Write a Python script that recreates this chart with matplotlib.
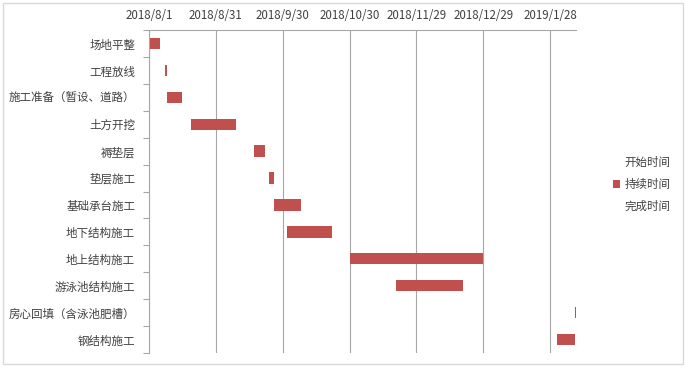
import datetime as dt
import matplotlib
matplotlib.use("Agg")
import matplotlib.pyplot as plt
import matplotlib.dates as mdates
from matplotlib.patches import Patch, Rectangle
from matplotlib.ticker import FixedLocator, FuncFormatter

plt.rcParams['font.family'] = ['Noto Sans CJK SC', 'DejaVu Sans']

tasks = ["场地平整", "工程放线", "施工准备（暂设、道路）", "土方开挖", "褥垫层", "垫层施工",
         "基础承台施工", "地下结构施工", "地上结构施工", "游泳池结构施工",
         "房心回填（含泳池肥槽）", "钢结构施工"]
starts = ["2018-08-01", "2018-08-08", "2018-08-09", "2018-08-20", "2018-09-17", "2018-09-24",
          "2018-09-26", "2018-10-02", "2018-10-30", "2018-11-20", "2019-02-08", "2019-01-31"]
durations = [5, 1, 7, 20, 5, 2, 12, 20, 60, 30, 1, 8]
tick_dates = ["2018-08-01", "2018-08-31", "2018-09-30", "2018-10-30",
              "2018-11-29", "2018-12-29", "2019-01-28"]
legend_labels = ["开始时间", "持续时间", "完成时间"]

red = "#C0504D"
grey = "#A6A6A6"
txt = "#404040"

def to_num(s):
    return mdates.date2num(dt.datetime.strptime(s, "%Y-%m-%d"))

fig = plt.figure(figsize=(6.85, 3.68), dpi=100)
fig.patches.append(Rectangle((3 / 685, 4 / 368), 680 / 685, 361 / 368, transform=fig.transFigure,
                             fill=False, edgecolor="#D9D9D9", linewidth=1))
ax = fig.add_axes([149 / 685, 15 / 368, 426.5 / 685, 323 / 368])

y = list(range(len(tasks)))
left = [to_num(s) for s in starts]
ax.barh(y, durations, left=left, height=0.42, color=red)

ax.set_ylim(len(tasks) - 0.5, -0.5)
ax.set_xlim(to_num("2018-08-01"), to_num("2019-02-08") + 0.35)

ticks = [to_num(s) for s in tick_dates]
ax.xaxis.set_major_locator(FixedLocator(ticks))
ax.xaxis.set_major_formatter(FuncFormatter(
    lambda v, p: "{0.year}/{0.month}/{0.day}".format(mdates.num2date(v))))
ax.xaxis.tick_top()
ax.tick_params(axis="x", length=0, pad=6, labelsize=8.3, labelcolor=txt)
ax.grid(axis="x", color=grey, linewidth=0.8)
ax.set_axisbelow(True)

ax.set_yticks(y)
ax.set_yticklabels(tasks)
ax.set_yticks([i - 0.5 for i in range(len(tasks) + 1)], minor=True)
ax.tick_params(axis="y", which="major", length=0, pad=10, labelsize=8.3, labelcolor=txt)
ax.tick_params(axis="y", which="minor", length=4, color=grey, width=0.8)

for side in ["right", "bottom"]:
    ax.spines[side].set_visible(False)
for side in ["left", "top"]:
    ax.spines[side].set_color(grey)
    ax.spines[side].set_linewidth(0.8)

handles = [Patch(facecolor="none", edgecolor="none"), Patch(facecolor=red),
           Patch(facecolor="none", edgecolor="none")]
fig.legend(handles, legend_labels, loc="upper left", bbox_to_anchor=(603 / 685, 1 - 146 / 368),
           frameon=False, fontsize=8.3, labelcolor=txt, handlelength=0.6, handleheight=0.6,
           handletextpad=0.35, labelspacing=0.75)

fig.savefig("out.png", dpi=100)
